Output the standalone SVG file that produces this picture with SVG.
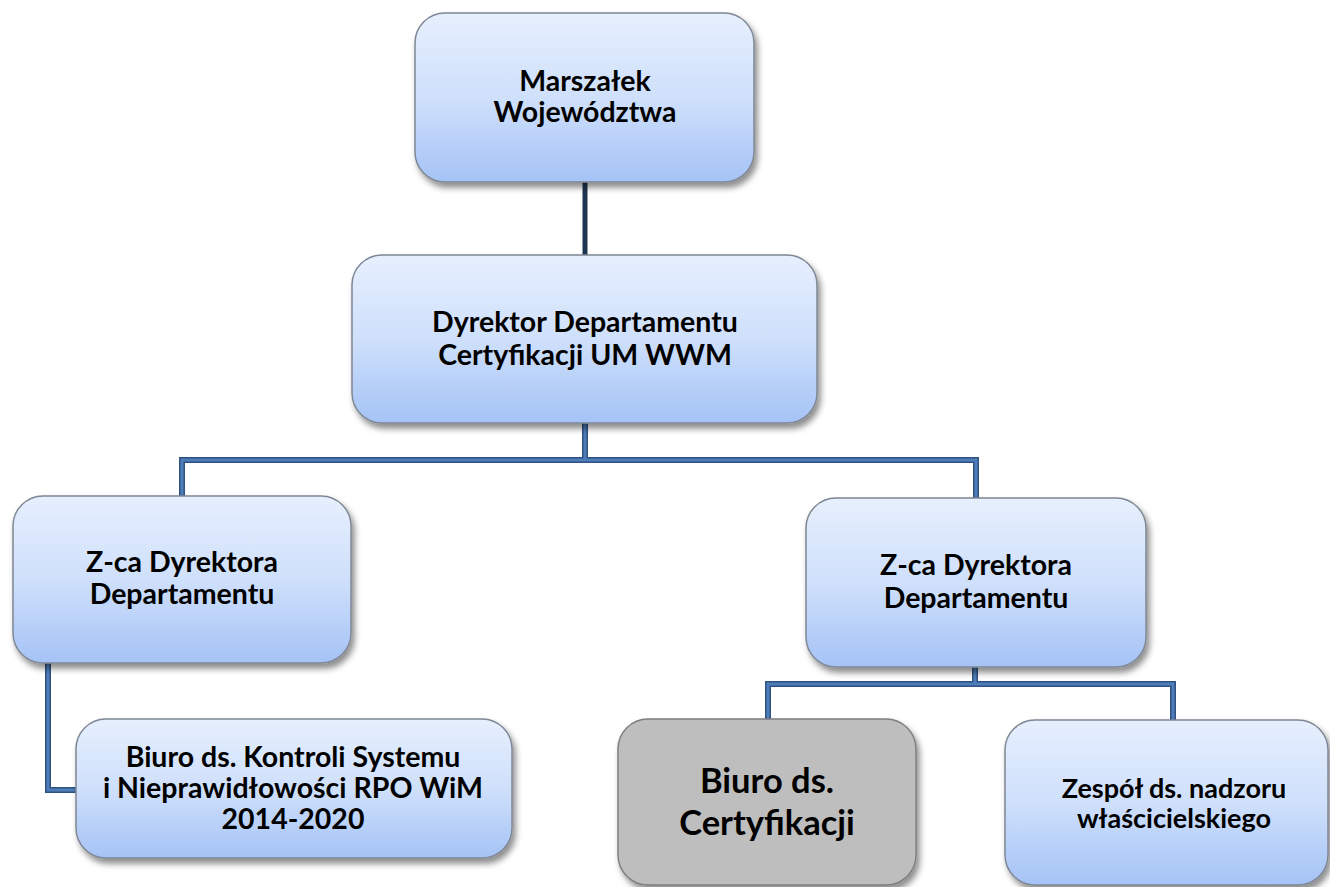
<svg xmlns="http://www.w3.org/2000/svg" width="1330" height="887" viewBox="0 0 1330 887">
<defs>
<linearGradient id="blueGrad" x1="0" y1="0" x2="0" y2="1">
<stop offset="0" stop-color="#e6effd"/>
<stop offset="0.5" stop-color="#cfe0fb"/>
<stop offset="1" stop-color="#a5c3f6"/>
</linearGradient>
<filter id="shadow" x="-10%" y="-10%" width="125%" height="130%">
<feDropShadow dx="3" dy="5" stdDeviation="3" flood-color="#000" flood-opacity="0.45"/>
</filter>
</defs>
<style>
.box{fill:url(#blueGrad);stroke:#7f8794;stroke-width:1.5;filter:url(#shadow)}
.gray{fill:#bebebe;stroke:#7f7f7f;stroke-width:1.5;filter:url(#shadow)}
.lbl{font-family:Lato,"Liberation Sans",sans-serif;font-weight:bold;font-size:28.5px;fill:#000;text-anchor:middle}
.big{font-size:34.5px}
.mid{font-size:27px}
.conn-dark{fill:none;stroke:#1e3552;stroke-width:5}
.conn-out{fill:none;stroke:#2f5283;stroke-width:6}
.conn-in{fill:none;stroke:#4f7db8;stroke-width:3}
</style>
<rect width="1330" height="887" fill="#fff"/>
<g id="connectors">
<path class="conn-dark" d="M585 182V256"/>
<path class="conn-out" d="M585 423V460M182 497V460H976V499M48 663V790H78M975 667V684M768 719V684H1173V721"/>
<path class="conn-in" d="M585 423V460M182 497V460H976V499M48 663V790H78M975 667V684M768 719V684H1173V721"/>
</g>
<g id="marszalek">
<rect class="box" x="415" y="13" width="339" height="169" rx="30"/>
<text class="lbl" x="585" y="91">Marszałek</text>
<text class="lbl" x="585" y="122">Województwa</text>
</g>
<g id="dyrektor">
<rect class="box" x="352" y="255" width="465" height="168" rx="30"/>
<text class="lbl" x="585" y="332">Dyrektor Departamentu</text>
<text class="lbl" x="585" y="365">Certyfikacji UM WWM</text>
</g>
<g id="zca-left">
<rect class="box" x="13" y="496" width="338" height="167" rx="30"/>
<text class="lbl" x="182" y="572">Z-ca Dyrektora</text>
<text class="lbl" x="182" y="604">Departamentu</text>
</g>
<g id="zca-right">
<rect class="box" x="806" y="498" width="340" height="169" rx="30"/>
<text class="lbl" x="976" y="575">Z-ca Dyrektora</text>
<text class="lbl" x="976" y="608">Departamentu</text>
</g>
<g id="biuro-kontroli">
<rect class="box" x="76" y="719" width="436" height="139" rx="30"/>
<text class="lbl" x="293" y="767">Biuro ds. Kontroli Systemu</text>
<text class="lbl" x="293" y="798">i Nieprawidłowości RPO WiM</text>
<text class="lbl" x="293" y="829">2014-2020</text>
</g>
<g id="biuro-certyfikacji">
<rect class="gray" x="618" y="719" width="298" height="166" rx="30"/>
<text class="lbl big" x="767" y="793">Biuro ds.</text>
<text class="lbl big" x="767" y="835">Certyfikacji</text>
</g>
<g id="zespol">
<rect class="box" x="1005" y="720" width="323" height="165" rx="30"/>
<text class="lbl mid" x="1174" y="798">Zespół ds. nadzoru</text>
<text class="lbl mid" x="1174" y="828">właścicielskiego</text>
</g>
</svg>
